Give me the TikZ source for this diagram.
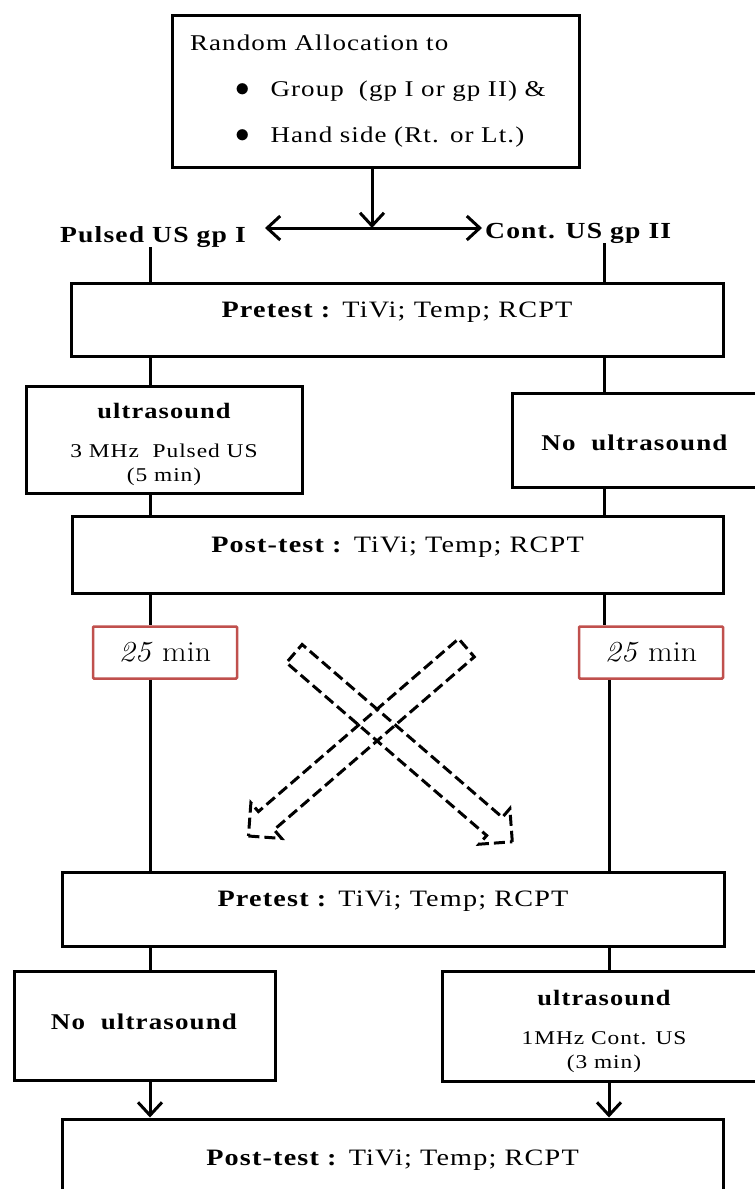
\documentclass[tikz,border=0pt]{standalone}
\usepackage{fontspec}
\usepackage{xcolor}
\usepackage{graphicx}
\usetikzlibrary{arrows.meta,shapes.arrows}
\newfontfamily\tnr{Liberation Serif}[FakeStretch=1.2,LetterSpace=5]
\definecolor{waitred}{RGB}{192,80,77}
\tikzset{
  box/.style={draw, line width=3pt, inner sep=0pt, font=\tnr\fontsize{22.5}{24}\selectfont},
  testbox/.style={box, text height=16pt, text depth=21pt, font=\tnr\fontsize{23.5}{24}\selectfont},
  usbox/.style={box, align=center, font=\tnr\fontsize{19.5}{24}\selectfont},
  waitbox/.style={draw=waitred, line width=2.5pt, fill=white, rounded corners=1pt, minimum width=144, minimum height=52, font=\fontsize{29}{30}\selectfont},
  grplabel/.style={font=\tnr\bfseries\fontsize{23}{24}\selectfont, inner sep=0pt, anchor=base west},
  link/.style={line width=3pt},
  tip/.style={link, -{Straight Barb[length=13pt,width=24pt]}},
  swaparrow/.style={single arrow, draw, line width=3pt, dash pattern=on 11pt off 5pt, inner sep=10.5pt, single arrow head extend=11.5pt, single arrow tip angle=90, minimum height=288}
}
\begin{document}
\begin{tikzpicture}[x=1pt,y=-1pt]
                \useasboundingbox (0,0) rectangle (755,1189);
                % 随机分配
                \node[box, minimum width=407, minimum height=152, text width=371, align=left, font=\tnr\fontsize{22.5}{46}\selectfont] (alloc) at (375.5,91) {Random Allocation to\\ \hspace*{45pt}\scalebox{1.4}{$\bullet$}\hspace{21pt}Group\ \ (gp I or gp II) \&\\ \hspace*{45pt}\scalebox{1.4}{$\bullet$}\hspace{21pt}Hand side (Rt. or Lt.)};
                \coordinate (split) at (372,228);
                \coordinate (tipL) at (265,228);
                \coordinate (tipR) at (482,228);
                \coordinate (laneL) at (150,0);
                \coordinate (laneR) at (604,0);
                \coordinate (laneS) at (609,0);
                \node[grplabel] (grp1) at (60,242) {Pulsed US gp I};
                \node[grplabel] (grp2) at (485,238) {Cont. US gp II};
                
                % 第一阶段
                \node[testbox, minimum width=652, minimum height=73] (pre1) at (397,319.5) {\textbf{Pretest :} TiVi; Temp; RCPT};
                \node[usbox, minimum width=276, minimum height=107] (us1) at (164,439.5) {{\bfseries\fontsize{22}{24}\selectfont\rule{0pt}{26pt}ultrasound}\\[15pt] 3 MHz\ \ Pulsed US\\(5 min)\rule[-5pt]{0pt}{5pt}};
                \node[box, minimum width=246, minimum height=94, text height=20pt, text depth=0pt] (nous1) at (635,440) {\textbf{No\ \ ultrasound}};
                \node[testbox, minimum width=651, minimum height=77] (post1) at (397.5,554.5) {\textbf{Post-test :} TiVi; Temp; RCPT};
                
                % 间隔
                \node[waitbox] (wait1) at (165,652.5) {\scalebox{1.1}[1]{\textit{25} min}};
                \node[waitbox] (wait2) at (651,652.5) {\scalebox{1.1}[1]{\textit{25} min}};
                
                % 第二阶段
                \node[testbox, minimum width=662, minimum height=74] (pre2) at (393,909) {\textbf{Pretest :} TiVi; Temp; RCPT};
                \node[box, minimum width=261, minimum height=109, text height=16pt, text depth=9pt] (nous2) at (144.5,1025.5) {\textbf{No\ \ ultrasound}};
                \node[usbox, minimum width=324, minimum height=110] (us2) at (604,1026) {{\bfseries\fontsize{22}{24}\selectfont\rule{0pt}{26pt}ultrasound}\\[15pt] 1MHz Cont. US\\(3 min)\rule[-5pt]{0pt}{5pt}};
                \node[testbox, minimum width=661, minimum height=97] (post2) at (392.5,1167.5) {\textbf{Post-test :} TiVi; Temp; RCPT};
                
                % 交叉
                \node[swaparrow, rotate=-40.8] (swapA) at (398.75,743.75) {};
                \node[swaparrow, rotate=-139.2] (swapB) at (362,738) {};
                
                % 连线
                \draw[tip] (alloc.south -| split) -- (split);
                \draw[tip] (split) -- (tipL);
                \draw[tip] (split) -- (tipR);
                \draw[link] (grp1.south -| laneL) -- (pre1.north -| laneL);
                \draw[link] (pre1.south -| laneL) -- (us1.north -| laneL);
                \draw[link] (us1.south -| laneL) -- (post1.north -| laneL);
                \draw[link] (post1.south -| laneL) -- (wait1.north -| laneL);
                \draw[link] (wait1.south -| laneL) -- (pre2.north -| laneL);
                \draw[link] (pre2.south -| laneL) -- (nous2.north -| laneL);
                \draw[tip] (nous2.south -| laneL) -- (post2.north -| laneL);
                \draw[link] (grp2.south -| laneR) -- (pre1.north -| laneR);
                \draw[link] (pre1.south -| laneR) -- (nous1.north -| laneR);
                \draw[link] (nous1.south -| laneR) -- (post1.north -| laneR);
                \draw[link] (post1.south -| laneR) -- (wait2.north -| laneR);
                \draw[link] (wait2.south -| laneS) -- (pre2.north -| laneS);
                \draw[link] (pre2.south -| laneS) -- (us2.north -| laneS);
                \draw[tip] (us2.south -| laneS) -- (post2.north -| laneS);
\end{tikzpicture}
\end{document}
